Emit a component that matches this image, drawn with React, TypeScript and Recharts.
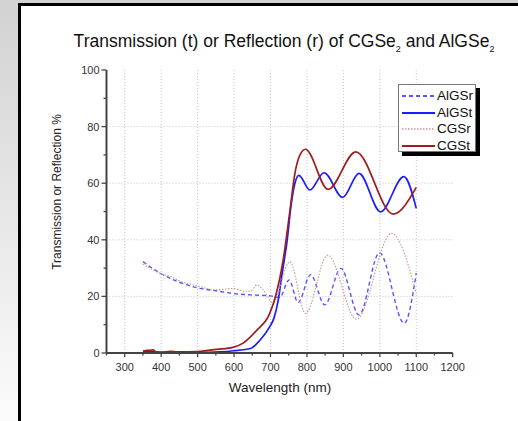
import React from "react";
import { LineChart, Line, XAxis, YAxis, ReferenceLine, Legend } from "recharts";

// wavelength (nm) / percent pairs
const algsr = [
  { nm: 350, v: 32.3 }, { nm: 375, v: 30 }, { nm: 400, v: 28 }, { nm: 450, v: 25 },
  { nm: 500, v: 23 }, { nm: 550, v: 22 }, { nm: 600, v: 21 }, { nm: 650, v: 20.5 },
  { nm: 700, v: 20.2 }, { nm: 725, v: 19.6 }, { nm: 751, v: 25.8 }, { nm: 776, v: 17.8 },
  { nm: 810, v: 27.7 }, { nm: 849, v: 17 }, { nm: 893, v: 29.9 }, { nm: 943, v: 13.4 },
  { nm: 999, v: 35.4 }, { nm: 1067, v: 10.5 }, { nm: 1100, v: 28.2 },
];

const algst = [
  { nm: 350, v: 0.5 }, { nm: 380, v: 0.4 }, { nm: 420, v: 0.2 }, { nm: 500, v: 0.2 },
  { nm: 560, v: 0.4 }, { nm: 600, v: 0.8 }, { nm: 645, v: 1.6 }, { nm: 671, v: 4.5 },
  { nm: 698, v: 9.3 }, { nm: 710, v: 12.5 }, { nm: 721, v: 18.5 }, { nm: 733, v: 29 },
  { nm: 746, v: 40 }, { nm: 756, v: 51.7 }, { nm: 767, v: 60 }, { nm: 778, v: 62.8 },
  { nm: 808, v: 57.6 }, { nm: 847, v: 63.7 }, { nm: 898, v: 55 }, { nm: 943, v: 63.5 },
  { nm: 1002, v: 49.9 }, { nm: 1066, v: 62.3 }, { nm: 1100, v: 51.1 },
];

const cgsr = [
  { nm: 350, v: 31.4 }, { nm: 375, v: 29.6 }, { nm: 400, v: 28 }, { nm: 425, v: 27 },
  { nm: 450, v: 25.5 }, { nm: 500, v: 23.7 }, { nm: 550, v: 22.3 }, { nm: 597, v: 22.8 },
  { nm: 630, v: 21.8 }, { nm: 645, v: 21.8 }, { nm: 662, v: 24 }, { nm: 680, v: 22.3 },
  { nm: 707, v: 17.8 }, { nm: 753, v: 32.3 }, { nm: 796, v: 14 }, { nm: 857, v: 34.6 },
  { nm: 936, v: 11.9 }, { nm: 1032, v: 42.3 }, { nm: 1100, v: 21.1 },
];

const cgst = [
  { nm: 350, v: 0.7 }, { nm: 362, v: 0.9 }, { nm: 378, v: 1.1 }, { nm: 385, v: 0.4 },
  { nm: 400, v: 0.2 }, { nm: 425, v: 0.6 }, { nm: 445, v: 0.4 }, { nm: 500, v: 0.5 },
  { nm: 552, v: 1.3 }, { nm: 597, v: 2 }, { nm: 625, v: 3.5 }, { nm: 662, v: 8 },
  { nm: 698, v: 14 }, { nm: 716, v: 21 }, { nm: 735, v: 33 }, { nm: 753, v: 50 },
  { nm: 767, v: 63.5 }, { nm: 781, v: 70 }, { nm: 796, v: 72 }, { nm: 858, v: 57.8 },
  { nm: 934, v: 71.1 }, { nm: 1037, v: 49.1 }, { nm: 1100, v: 58.5 },
];

const xTicks = [250, 300, 350, 400, 450, 500, 550, 600, 650, 700, 750, 800, 850, 900, 950, 1000, 1050, 1100, 1150, 1200];
const yTicks = [0, 10, 20, 30, 40, 50, 60, 70, 80, 90, 100];
const xGrid = [300, 400, 500, 600, 700, 800, 900, 1000, 1100];
const yGrid = [20, 40, 60, 80];

const series = [
  { name: "AlGSr", data: algsr, color: "#5555ff", width: 1.4, dash: "4 3" },
  { name: "AlGSt", data: algst, color: "#1c1cff", width: 1.7, dash: undefined },
  { name: "CGSr", data: cgsr, color: "#cc9494", width: 1.1, dash: "1.5 1.5" },
  { name: "CGSt", data: cgst, color: "#a01c1c", width: 1.7, dash: undefined },
];

const axisColor = "#444";

const XTick = (props: any) => {
  const { x, y, payload } = props;
  const major = payload.value % 100 === 0;
  return (
    <g>
      <line x1={x} x2={x} y1={y} y2={y + (major ? 4 : 2.5)} stroke={axisColor} strokeWidth={1.3} />
      {major && (
        <text x={x} y={y + 18} textAnchor="middle" fontSize={11} fill="#333">
          {payload.value}
        </text>
      )}
    </g>
  );
};

const YTick = (props: any) => {
  const { x, y, payload } = props;
  const major = payload.value % 20 === 0;
  return (
    <g>
      <line x1={x - (major ? 5 : 3)} x2={x} y1={y} y2={y} stroke={axisColor} strokeWidth={1.3} />
      {major && (
        <text x={x - 7} y={y + 4} textAnchor="end" fontSize={11} fill="#333">
          {payload.value}
        </text>
      )}
    </g>
  );
};

const LegendBox = () => (
  <div
    style={{
      width: 78,
      height: 68,
      boxSizing: "border-box",
      border: "1px solid #777",
      background: "#fff",
      boxShadow: "4px 4px 0 #000",
      paddingTop: 3,
    }}
  >
    {series.map((s) => (
      <div key={s.name} style={{ display: "flex", alignItems: "center", height: 16.5 }}>
        <svg width={38} height={6} style={{ display: "block", flexShrink: 0 }}>
          <line x1={3} x2={36} y1={3} y2={3} stroke={s.color} strokeWidth={s.width + 0.4} strokeDasharray={s.dash} />
        </svg>
        <span style={{ fontSize: 13.5, color: "#111", lineHeight: "14px", whiteSpace: "nowrap" }}>{s.name}</span>
      </div>
    ))}
  </div>
);

const App = () => {
  return (
    <div
      style={{
        position: "absolute",
        left: 0,
        top: 0,
        width: 518,
        height: 421,
        overflow: "hidden",
        background: "linear-gradient(#d2d2d2, #fbfbfb)",
        fontFamily: "'Liberation Sans', Arial, sans-serif",
      }}
    >
      <div
        style={{
          position: "absolute",
          left: 18,
          top: 3,
          width: 540,
          height: 440,
          border: "3px solid #000",
          background: "#fff",
        }}
      />
      <div style={{ position: "absolute", left: 0, top: 0 }}>
        <LineChart width={518} height={421} margin={{ top: 70, right: 65.3, bottom: 38, left: 56.5 }}>
          {yGrid.map((v) => (
            <ReferenceLine key={"h" + v} y={v} stroke="#c4c4c4" strokeDasharray="1 2" />
          ))}
          {xGrid.map((v) => (
            <ReferenceLine key={"v" + v} x={v} stroke="#c4c4c4" strokeDasharray="1 2" />
          ))}
          <XAxis
            dataKey="nm"
            type="number"
            domain={[250, 1200]}
            ticks={xTicks}
            interval={0}
            height={30}
            tickSize={0}
            tickMargin={0}
            tick={<XTick />}
            stroke={axisColor}
            strokeWidth={2}
            allowDataOverflow
          />
          <YAxis
            type="number"
            domain={[0, 100]}
            ticks={yTicks}
            interval={0}
            width={50}
            tickSize={0}
            tickMargin={0}
            tick={<YTick />}
            stroke={axisColor}
            strokeWidth={2}
          />
          {series.map((s) => (
            <Line
              key={s.name}
              name={s.name}
              data={s.data}
              dataKey="v"
              type="monotone"
              stroke={s.color}
              strokeWidth={s.width}
              strokeDasharray={s.dash}
              dot={false}
              activeDot={false}
              isAnimationActive={false}
            />
          ))}
          <Legend
            layout="vertical"
            align="center"
            verticalAlign="middle"
            content={<LegendBox />}
            wrapperStyle={{ left: 398, top: 84, width: 84, height: 74 }}
          />
        </LineChart>
      </div>
      <svg width={518} height={421} style={{ position: "absolute", left: 0, top: 0, pointerEvents: "none" }}>
        <text x={284} y={47} textAnchor="middle" fontSize={17.5} fill="#111">
          Transmission (t) or Reflection (r) of CGSe
          <tspan fontSize={9} dy={5}>2</tspan>
          <tspan dy={-5}> and AlGSe</tspan>
          <tspan fontSize={9} dy={5}>2</tspan>
        </text>
        <text transform="translate(60.5,192) rotate(-90)" textAnchor="middle" fontSize={12} fill="#222">
          Transmission or Reflection %
        </text>
        <text x={280} y={392} textAnchor="middle" fontSize={13.5} fill="#222">
          Wavelength (nm)
        </text>
      </svg>
    </div>
  );
};

export default App;
